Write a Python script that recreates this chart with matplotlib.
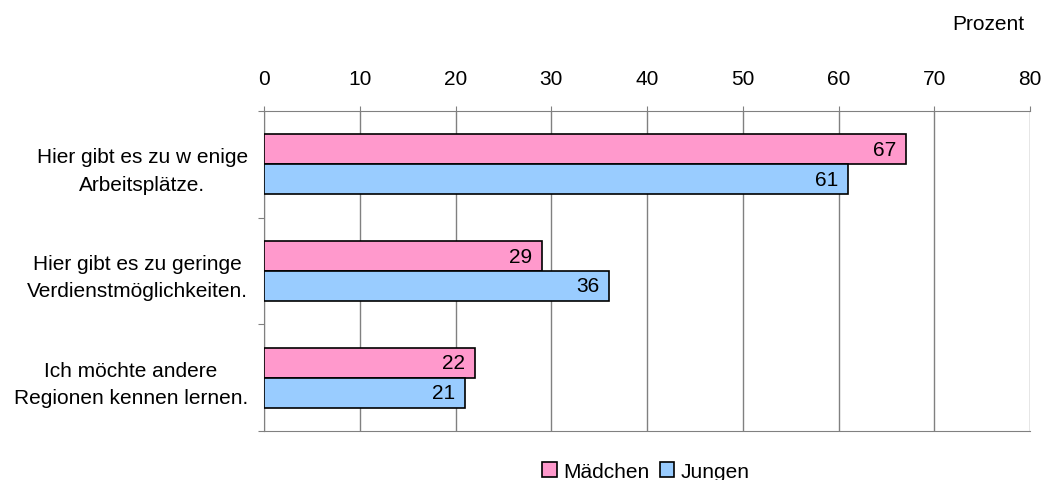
import matplotlib.pyplot as plt
import numpy as np

plt.rcParams['font.family'] = ['Liberation Sans', 'DejaVu Sans']

categories = ['Hier gibt es zu w enige\nArbeitsplätze.',
              'Hier gibt es zu geringe\nVerdienstmöglichkeiten.',
              'Ich möchte andere\nRegionen kennen lernen.']
maedchen = [67, 29, 22]
jungen = [61, 36, 21]
series_names = ['Mädchen', 'Jungen']
xticks = [0, 10, 20, 30, 40, 50, 60, 70, 80]

pink = '#FF99CC'
blue = '#99CCFF'
grey = '#808080'
fs = 15

fig = plt.figure(figsize=(10.44, 4.81), dpi=100)
ax = fig.add_axes([264 / 1044, 1 - 432 / 481, 766 / 1044, 320 / 481])

y = np.arange(len(categories))
h = 0.28
b1 = ax.barh(y - h / 2, maedchen, height=h, color=pink, edgecolor='black',
             linewidth=1.2, label=series_names[0], zorder=3)
b2 = ax.barh(y + h / 2, jungen, height=h, color=blue, edgecolor='black',
             linewidth=1.2, label=series_names[1], zorder=3)

for bars, vals in ((b1, maedchen), (b2, jungen)):
    for bar, v in zip(bars, vals):
        ax.text(v - 1.0, bar.get_y() + bar.get_height() / 2, str(v),
                ha='right', va='center', fontsize=fs, zorder=4)

ax.set_xlim(0, 80)
ax.set_ylim(len(categories) - 0.5, -0.5)
ax.xaxis.tick_top()
ax.set_xticks(xticks)
ax.tick_params(axis='x', direction='out', length=3.6, color=grey,
               labelsize=fs, pad=13)
ax.grid(axis='x', color=grey, linewidth=1, zorder=0)

ax.set_yticks(np.arange(len(categories) + 1) - 0.5)
ax.set_yticklabels([])
ax.tick_params(axis='y', which='major', direction='out', length=4, color=grey)
ax.set_yticks(y, minor=True)
ax.set_yticklabels(categories, minor=True, fontsize=fs,
                   multialignment='center', linespacing=1.55)
ax.tick_params(axis='y', which='minor', length=0, pad=11.5)

for s in ax.spines.values():
    s.set_color(grey)
ax.spines['right'].set_visible(False)

fig.text(988 / 1044, 1 - 25 / 481, 'Prozent', ha='center', va='center',
         fontsize=fs)

fig.legend(loc='center', bbox_to_anchor=(646 / 1044, 1 - 472 / 481),
           ncol=2, frameon=False, fontsize=fs, handlelength=0.7,
           handleheight=0.7, handletextpad=0.3, columnspacing=0.5)

fig.savefig('out.png', dpi=100)
